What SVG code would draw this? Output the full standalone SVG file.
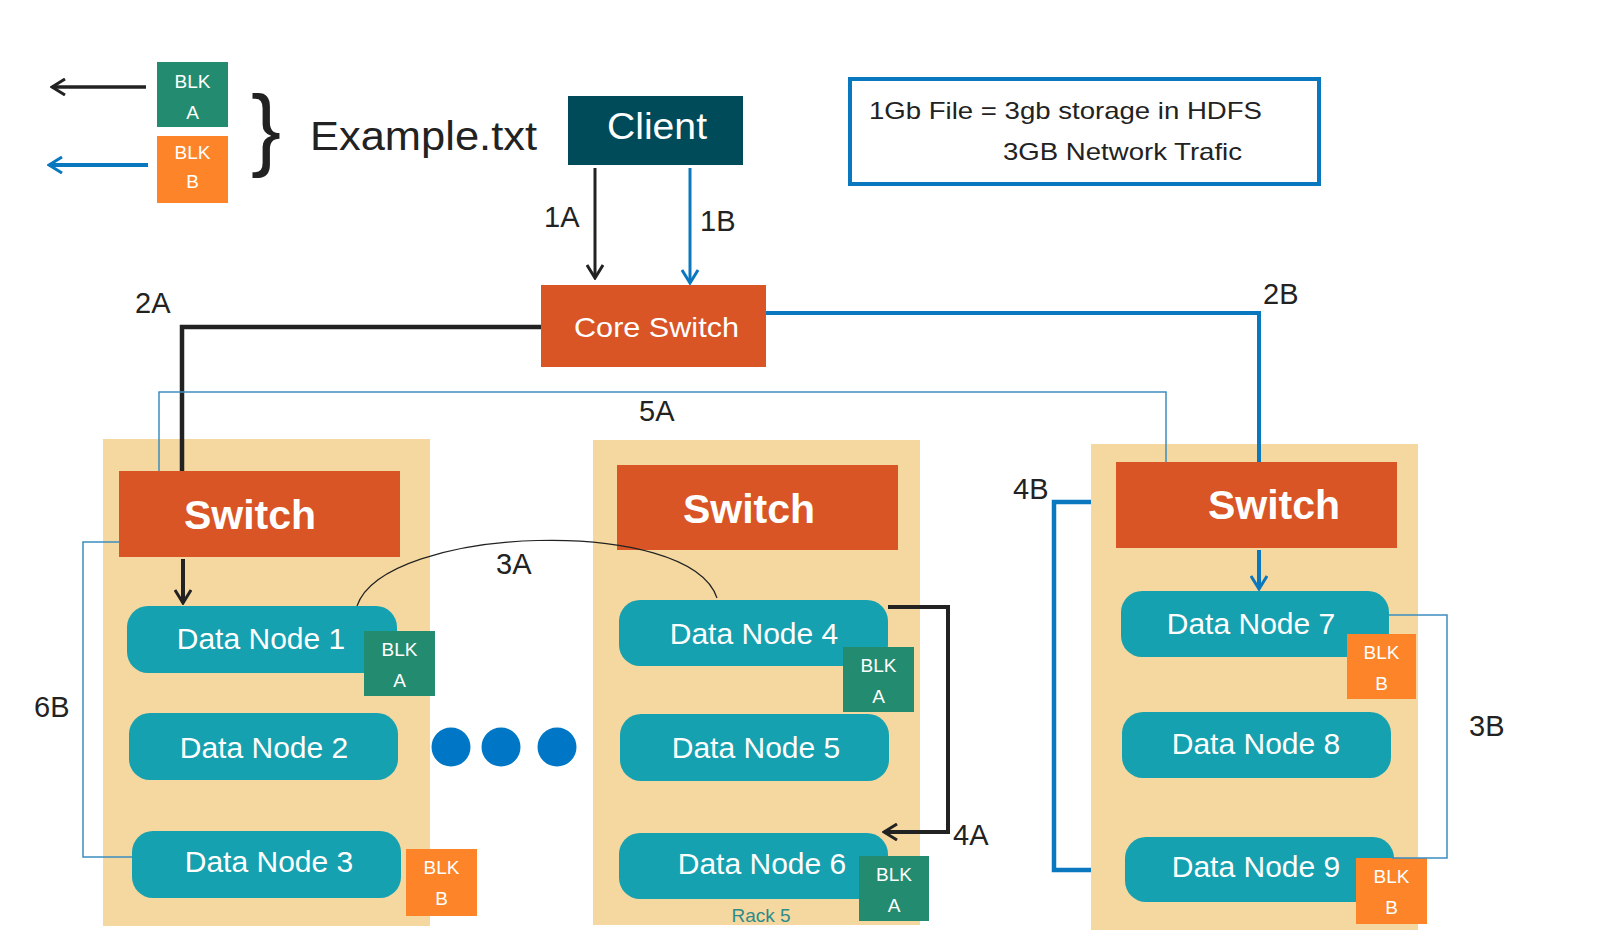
<svg xmlns="http://www.w3.org/2000/svg" width="1600" height="937" viewBox="0 0 1600 937">
<style>
text{font-family:"Liberation Sans",Arial,sans-serif}
.rack{fill:#f5d8a0}
.sw{fill:#d95525}
.dn{fill:#16a1b0}
.dnt{fill:#fff;font-size:30px;text-anchor:middle}
.swt{fill:#fff;font-size:41px;font-weight:bold;text-anchor:middle}
.ga{fill:#238b6f}
.ob{fill:#fd8429}
.bt{fill:#fff;font-size:19px;text-anchor:middle}
.lbl{fill:#222;font-size:29px}
.k{fill:none;stroke:#222}
.b{fill:none;stroke:#0a78bf}
.thin{fill:none;stroke:#3b8dc0;stroke-width:1.5}
</style>
<defs>
<marker id="ak" viewBox="0 0 18 18" refX="16" refY="9" markerWidth="18" markerHeight="18" markerUnits="userSpaceOnUse" orient="auto">
<path d="M3,1 L16,9 L3,17" fill="none" stroke="#222" stroke-width="3"/>
</marker>
<marker id="abl" viewBox="0 0 18 18" refX="16" refY="9" markerWidth="18" markerHeight="18" markerUnits="userSpaceOnUse" orient="auto">
<path d="M3,1 L16,9 L3,17" fill="none" stroke="#0a78bf" stroke-width="3"/>
</marker>
</defs>
<rect width="1600" height="937" fill="#fff"/>

<g id="legend">
<rect class="ga" x="157" y="62" width="71" height="65"/>
<text class="bt" x="192.5" y="88">BLK</text>
<text class="bt" x="192.5" y="119">A</text>
<rect class="ob" x="157" y="136" width="71" height="67"/>
<text class="bt" x="192.5" y="159">BLK</text>
<text class="bt" x="192.5" y="188">B</text>
<text x="251" y="159" font-size="90" fill="#222">}</text>
<text x="310" y="150" font-size="40" fill="#222" textLength="227" lengthAdjust="spacingAndGlyphs">Example.txt</text>
</g>

<g id="info">
<rect x="850" y="79" width="469" height="105" fill="#fff" stroke="#0a78bf" stroke-width="4"/>
<text x="869" y="119" font-size="24" fill="#222" textLength="393" lengthAdjust="spacingAndGlyphs">1Gb File = 3gb storage in HDFS</text>
<text x="1003" y="160" font-size="24" fill="#222" textLength="239" lengthAdjust="spacingAndGlyphs">3GB Network Trafic</text>
</g>

<g id="client">
<rect x="568" y="96" width="175" height="69" fill="#004b5a"/>
<text x="657" y="139" font-size="36" fill="#fff" text-anchor="middle" textLength="100" lengthAdjust="spacingAndGlyphs">Client</text>
</g>

<g id="core-switch">
<rect class="sw" x="541" y="285" width="225" height="82"/>
<text x="656.5" y="337" font-size="28" fill="#fff" text-anchor="middle" textLength="165" lengthAdjust="spacingAndGlyphs">Core Switch</text>
</g>

<g id="rack1">
<rect class="rack" x="103" y="439" width="327" height="487"/>
</g>
<g id="rack2">
<rect class="rack" x="593" y="440" width="327" height="485"/>
<text x="761" y="922" font-size="19" fill="#2e8b8b" text-anchor="middle">Rack 5</text>
</g>
<g id="rack3">
<rect class="rack" x="1091" y="444" width="327" height="486"/>
</g>

<g id="switch1"><rect class="sw" x="119" y="471" width="281" height="86"/><text class="swt" x="250" y="529">Switch</text></g>
<g id="switch2"><rect class="sw" x="617" y="465" width="281" height="85"/><text class="swt" x="749" y="523">Switch</text></g>
<g id="switch3"><rect class="sw" x="1116" y="462" width="281" height="86"/><text class="swt" x="1274" y="519">Switch</text></g>

<g id="dn1"><rect class="dn" x="127" y="606" width="270" height="67" rx="21"/><text class="dnt" x="261" y="649">Data Node 1</text></g>
<g id="dn2"><rect class="dn" x="129" y="713" width="269" height="67" rx="21"/><text class="dnt" x="264" y="758">Data Node 2</text></g>
<g id="dn3"><rect class="dn" x="132" y="831" width="269" height="67" rx="21"/><text class="dnt" x="269" y="872">Data Node 3</text></g>
<g id="dn4"><rect class="dn" x="619" y="600" width="269" height="66" rx="21"/><text class="dnt" x="754" y="644">Data Node 4</text></g>
<g id="dn5"><rect class="dn" x="620" y="714" width="269" height="67" rx="21"/><text class="dnt" x="756" y="758">Data Node 5</text></g>
<g id="dn6"><rect class="dn" x="619" y="833" width="269" height="66" rx="21"/><text class="dnt" x="762" y="874">Data Node 6</text></g>
<g id="dn7"><rect class="dn" x="1121" y="591" width="268" height="66" rx="21"/><text class="dnt" x="1251" y="634">Data Node 7</text></g>
<g id="dn8"><rect class="dn" x="1122" y="712" width="269" height="66" rx="21"/><text class="dnt" x="1256" y="754">Data Node 8</text></g>
<g id="dn9"><rect class="dn" x="1125" y="837" width="269" height="65" rx="21"/><text class="dnt" x="1256" y="877">Data Node 9</text></g>

<g id="blk-a1"><rect class="ga" x="364" y="631" width="71" height="65"/><text class="bt" x="399.5" y="656">BLK</text><text class="bt" x="399.5" y="687">A</text></g>
<g id="blk-a4"><rect class="ga" x="843" y="647" width="71" height="65"/><text class="bt" x="878.5" y="672">BLK</text><text class="bt" x="878.5" y="703">A</text></g>
<g id="blk-a6"><rect class="ga" x="859" y="856" width="70" height="65"/><text class="bt" x="894" y="881">BLK</text><text class="bt" x="894" y="912">A</text></g>
<g id="blk-b3"><rect class="ob" x="406" y="849" width="71" height="67"/><text class="bt" x="441.5" y="874">BLK</text><text class="bt" x="441.5" y="905">B</text></g>
<g id="blk-b7"><rect class="ob" x="1347" y="634" width="69" height="65"/><text class="bt" x="1381.5" y="659">BLK</text><text class="bt" x="1381.5" y="690">B</text></g>
<g id="blk-b9"><rect class="ob" x="1356" y="858" width="71" height="66"/><text class="bt" x="1391.5" y="883">BLK</text><text class="bt" x="1391.5" y="914">B</text></g>

<g id="dots" fill="#0077c6">
<circle cx="451" cy="747" r="19.5"/>
<circle cx="501" cy="747" r="19.5"/>
<circle cx="557" cy="747" r="19.5"/>
</g>

<g id="connectors">
<line class="k" x1="146" y1="87" x2="52" y2="87" stroke-width="3.5" marker-end="url(#ak)"/>
<line class="b" x1="148" y1="165" x2="49" y2="165" stroke-width="4" marker-end="url(#abl)"/>
<line class="k" x1="595" y1="168" x2="595" y2="278" stroke-width="3" marker-end="url(#ak)"/>
<line class="b" x1="690" y1="168" x2="690" y2="283" stroke-width="3" marker-end="url(#abl)"/>
<polyline class="k" points="541,327 182,327 182,471" stroke-width="4.5"/>
<polyline class="b" points="766,313 1259,313 1259,462" stroke-width="4"/>
<polyline class="thin" points="159,471 159,392 1166,392 1166,462"/>
<polyline class="thin" points="119,542 83,542 83,857 132,857"/>
<polyline class="thin" points="1389,615 1447,615 1447,858 1392,858"/>
<polyline class="b" points="1091,502 1054,502 1054,870 1091,870" stroke-width="4.5"/>
<polyline class="k" points="888,607 948,607 948,832 884,832" stroke-width="4" marker-end="url(#ak)"/>
<line class="k" x1="183" y1="559" x2="183" y2="603" stroke-width="4" marker-end="url(#ak)"/>
<line class="b" x1="1259" y1="550" x2="1259" y2="589" stroke-width="4" marker-end="url(#abl)"/>
<path class="k" d="M357,606 C385,525 690,515 717,598" stroke-width="1.2"/>
</g>

<g id="labels">
<text class="lbl" x="544" y="227">1A</text>
<text class="lbl" x="700" y="231">1B</text>
<text class="lbl" x="135" y="313">2A</text>
<text class="lbl" x="1263" y="304">2B</text>
<text class="lbl" x="496" y="574" font-size="26">3A</text>
<text class="lbl" x="1469" y="736">3B</text>
<text class="lbl" x="953" y="845">4A</text>
<text class="lbl" x="1013" y="499">4B</text>
<text class="lbl" x="639" y="421" font-size="22">5A</text>
<text class="lbl" x="34" y="717">6B</text>
</g>
</svg>
